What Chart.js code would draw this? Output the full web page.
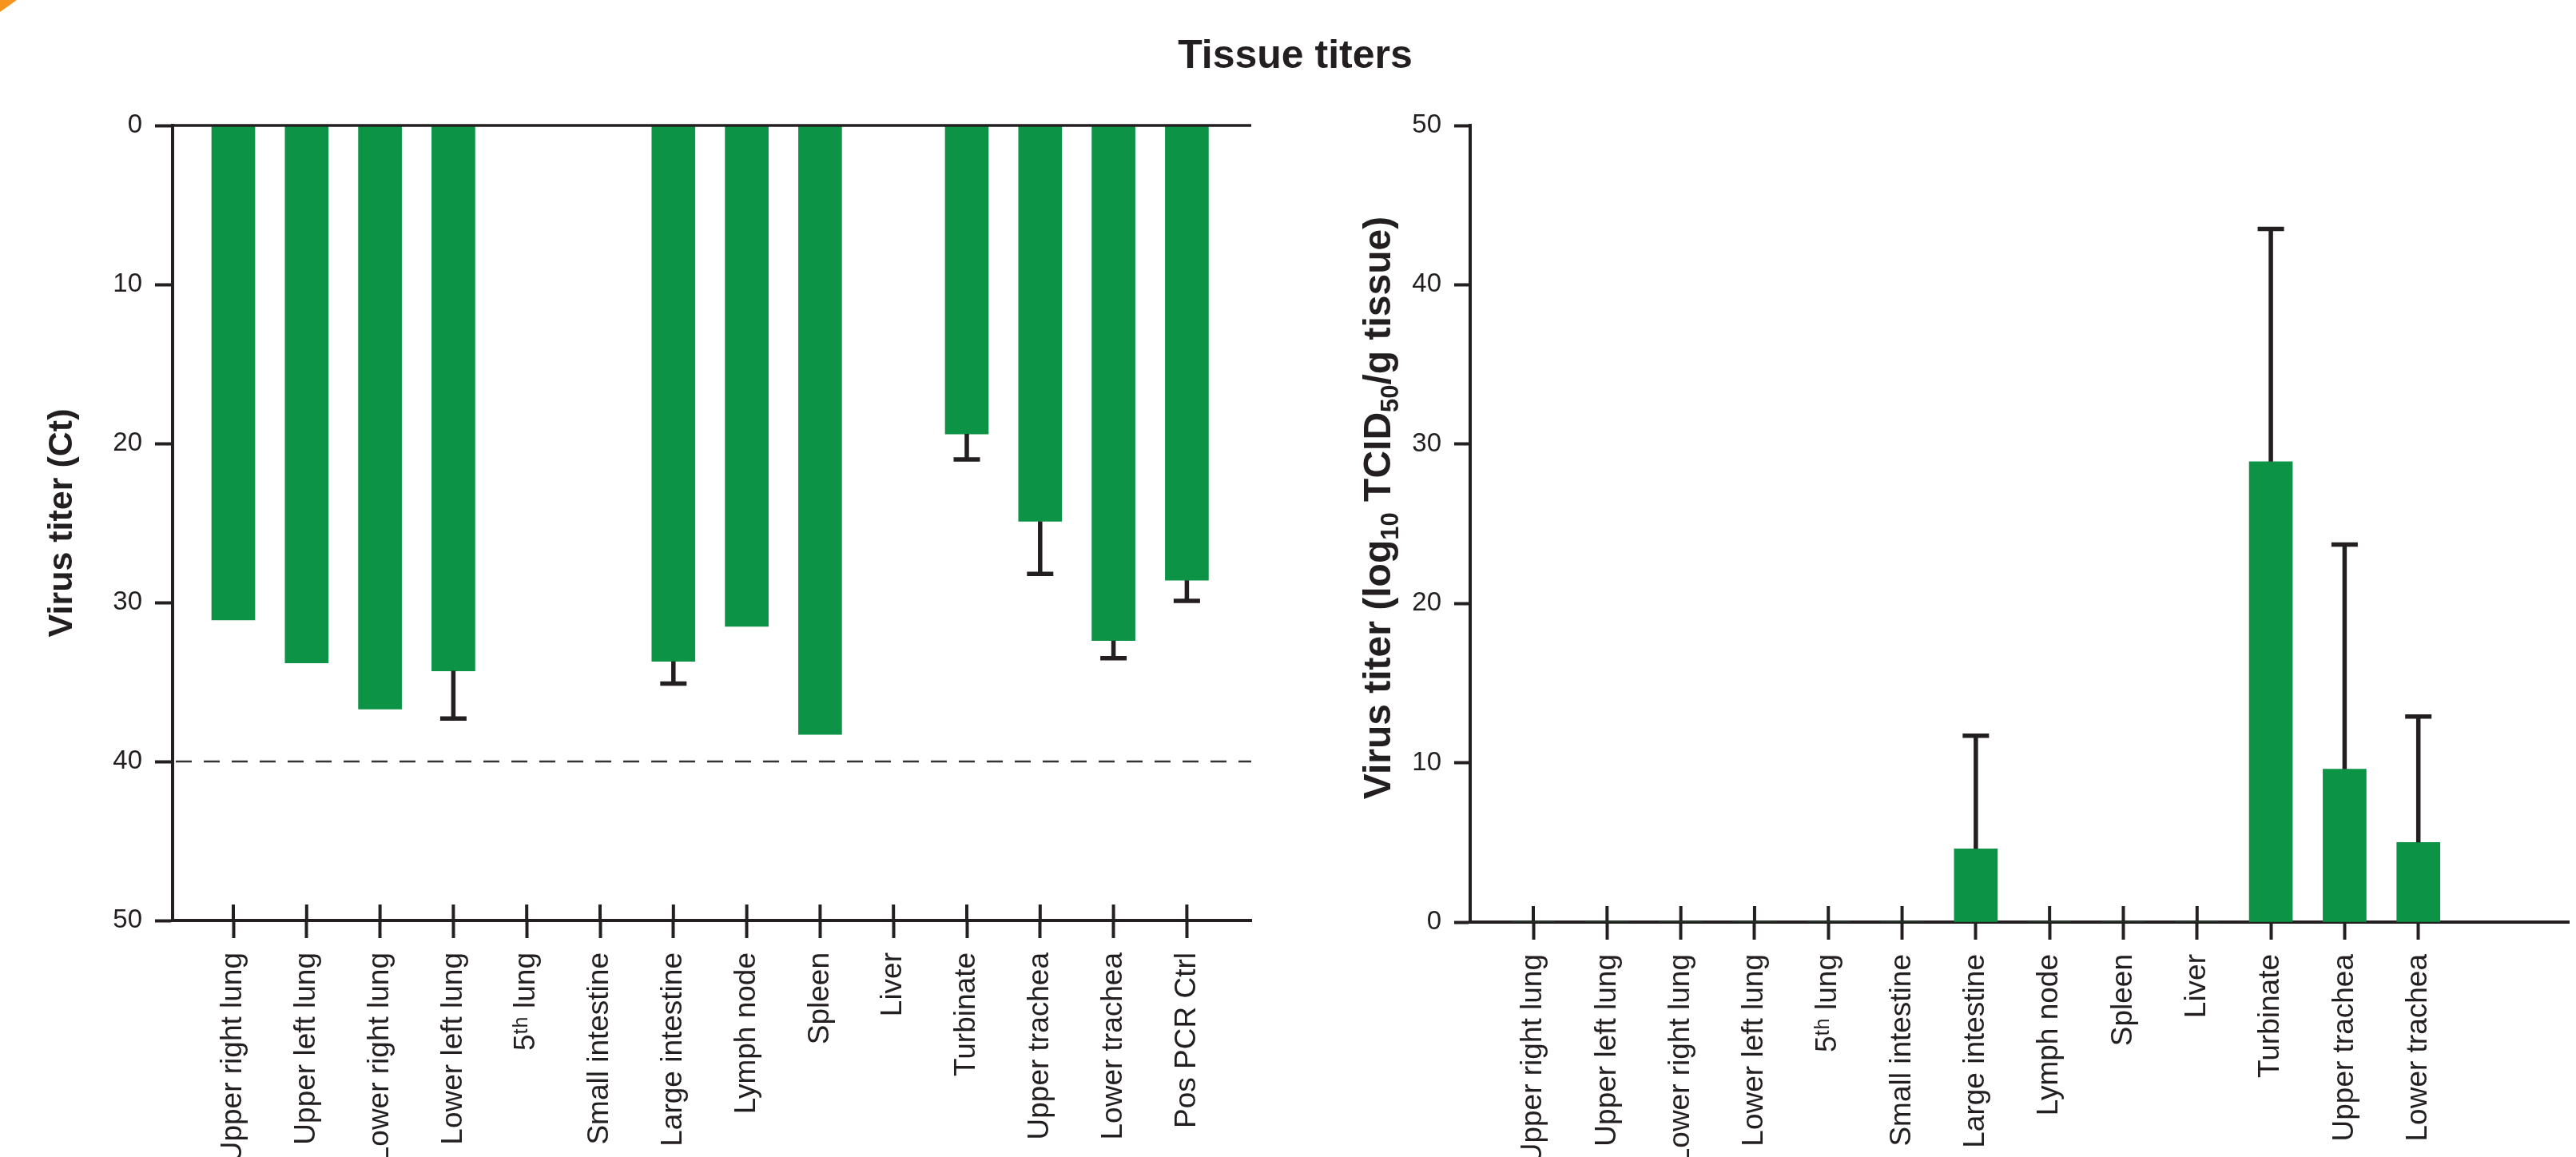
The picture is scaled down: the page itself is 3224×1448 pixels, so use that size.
<!DOCTYPE html>
<html>
<head>
<meta charset="utf-8">
<title>Tissue titers</title>
<script src="https://cdn.jsdelivr.net/npm/chart.js@4.4.1/dist/chart.umd.min.js"></script>
<style>
    html, body { margin: 0; padding: 0; background: #fff; }
    body { width: 3224px; height: 1448px; position: relative; overflow: hidden;
           font-family: "Liberation Sans", Arial, sans-serif; }
    #title { position: absolute; left: 0; top: 43px; width: 3242px; text-align: center;
             font-weight: bold; font-size: 50px; line-height: 50px; color: #231f20; }
    #ct { position: absolute; left: 0; top: 0; }
    #tcid { position: absolute; left: 1620px; top: 0; }
    .corner { position: absolute; left: 0; top: 0; width: 0; height: 0;
              border-top: 15px solid #f7941d; border-right: 21px solid transparent; }
</style>
</head>
<body>
<div class="corner"></div>
<div id="title">Tissue titers</div>
<canvas id="ct" width="1620" height="1448"></canvas>
<canvas id="tcid" width="1604" height="1448"></canvas>

<script>
// ─── Data ────────────────────────────────────────────────────────────
const ctLabels = ['Upper right lung', 'Upper left lung', 'Lower right lung', 'Lower left lung',
    '5ᵗʰ lung', 'Small intestine', 'Large intestine', 'Lymph node', 'Spleen', 'Liver',
    'Turbinate', 'Upper trachea', 'Lower trachea', 'Pos PCR Ctrl'];
const ctMeans = [31.1, 33.8, 36.7, 34.3, null, null, 33.7, 31.5, 38.3, null, 19.4, 24.9, 32.4, 28.6];
const ctSD    = [0, 0, 0, 3.0, 0, 0, 1.4, 0, 0, 0, 1.6, 3.3, 1.1, 1.3];
const ctTicks = [0, 10, 20, 30, 40, 50];
const ctCutoff = 40;

const tcidLabels = ['Upper right lung', 'Upper left lung', 'Lower right lung', 'Lower left lung',
    '5ᵗʰ lung', 'Small intestine', 'Large intestine', 'Lymph node', 'Spleen', 'Liver',
    'Turbinate', 'Upper trachea', 'Lower trachea'];
const tcidMeans = [0, 0, 0, 0, 0, 0, 4.6, 0, 0, 0, 28.9, 9.6, 5.0];
const tcidSD    = [0, 0, 0, 0, 0, 0, 7.1, 0, 0, 0, 14.6, 14.1, 7.9];
const tcidTicks = [0, 10, 20, 30, 40, 50];

// y title of the right panel, pieces with subscripts
const tcidTitle = [
    { text: 'Virus titer (log', sub: false },
    { text: '10', sub: true },
    { text: ' TCID', sub: false },
    { text: '50', sub: true },
    { text: '/g tissue)', sub: false }
];

// ─── Style ───────────────────────────────────────────────────────────
const INK = '#231f20';
const GREEN = '#0d9346';
const FONT = '"Liberation Sans", Arial, sans-serif';
Chart.defaults.font.family = FONT;
Chart.defaults.color = INK;

// ─── Plugins ─────────────────────────────────────────────────────────
// one-sided SD bars, pointing away from the bar base
function errorBars(means, sds) {
    return {
        id: 'errorBars',
        afterDatasetsDraw(chart) {
            const meta = chart.getDatasetMeta(0);
            const y = chart.scales.y;
            const ctx = chart.ctx;
            ctx.save();
            ctx.strokeStyle = INK;
            ctx.lineWidth = 5.5;
            means.forEach((v, i) => {
                if (v == null || !sds[i]) return;
                const x = meta.data[i].x;
                const y0 = y.getPixelForValue(v);
                const y1 = y.getPixelForValue(v + sds[i]);
                ctx.beginPath();
                ctx.moveTo(x, y0);
                ctx.lineTo(x, y1);
                ctx.moveTo(x - 16.5, y1);
                ctx.lineTo(x + 16.5, y1);
                ctx.stroke();
            });
            ctx.restore();
        }
    };
}

// category ticks cross the axis line: draw the part above it
const innerTicks = {
    id: 'innerTicks',
    beforeDatasetsDraw(chart) {
        const x = chart.scales.x;
        const ctx = chart.ctx;
        const base = chart.chartArea.bottom;
        ctx.save();
        ctx.strokeStyle = INK;
        ctx.lineWidth = 4;
        x.ticks.forEach(t => {
            const px = x.getPixelForValue(t.value);
            ctx.beginPath();
            ctx.moveTo(px, base);
            ctx.lineTo(px, base - 20);
            ctx.stroke();
        });
        ctx.restore();
    }
};

// zero line at top and detection cutoff for the Ct panel
const ctLines = {
    id: 'ctLines',
    afterDatasetsDraw(chart) {
        const { ctx, chartArea: a, scales: { y } } = chart;
        ctx.save();
        ctx.strokeStyle = INK;
        ctx.lineWidth = 3.5;
        ctx.beginPath();
        ctx.moveTo(a.left, y.getPixelForValue(0));
        ctx.lineTo(a.right, y.getPixelForValue(0));
        ctx.stroke();
        ctx.strokeStyle = '#333';
        ctx.lineWidth = 2.5;
        ctx.setLineDash([20, 15]);
        ctx.beginPath();
        ctx.moveTo(a.left + 4, y.getPixelForValue(ctCutoff));
        ctx.lineTo(a.right, y.getPixelForValue(ctCutoff));
        ctx.stroke();
        ctx.restore();
    }
};

// rotated axis title with subscript pieces
function subTitle(pieces, offsetX, shiftUp) {
    return {
        id: 'subTitle',
        afterDraw(chart) {
            const { ctx, chartArea: a } = chart;
            const big = 'bold 48px ' + FONT, small = 'bold 31px ' + FONT;
            ctx.save();
            let total = 0;
            pieces.forEach(p => { ctx.font = p.sub ? small : big; total += ctx.measureText(p.text).width; });
            ctx.translate(chart.scales.y.left + offsetX, (a.top + a.bottom) / 2);
            ctx.rotate(-Math.PI / 2);
            ctx.fillStyle = INK;
            ctx.textBaseline = 'alphabetic';
            let x = -total / 2 + shiftUp;
            pieces.forEach(p => {
                ctx.font = p.sub ? small : big;
                ctx.fillText(p.text, x, p.sub ? 27 : 17);
                x += ctx.measureText(p.text).width;
            });
            ctx.restore();
        }
    };
}

function xAxis(labels, min, max, height) {
    return {
        type: 'linear', min: min, max: max, offset: false,
        afterBuildTicks: s => { s.ticks = labels.map((_, i) => ({ value: i })); },
        afterFit: s => { s.height = height; },
        ticks: { autoSkip: false, minRotation: 90, maxRotation: 90, padding: 18,
                 color: INK, font: { size: 37 }, callback: v => labels[v] || '' },
        grid: { offset: false, drawOnChartArea: false, drawTicks: true, tickLength: 22, tickWidth: 4, tickColor: INK },
        border: { display: true, color: INK, width: 4 }
    };
}

function yAxis(ticks, width, title, titlePad, reverse, tickLen) {
    return {
        reverse: reverse, min: ticks[0], max: ticks[ticks.length - 1],
        afterBuildTicks: s => { s.ticks = ticks.map(v => ({ value: v })); },
        afterFit: s => { s.width = width; },
        ticks: { padding: 16, color: INK, font: { size: 33 } },
        grid: { drawOnChartArea: false, drawTicks: true, tickLength: tickLen, tickWidth: 4, tickColor: INK },
        border: { display: true, color: INK, width: 4 },
        title: { display: !!title, text: title || '', color: INK,
                 font: { size: 43, weight: 'bold' }, padding: { top: titlePad, bottom: 0 } }
    };
}

// ─── Ct panel ────────────────────────────────────────────────────────
new Chart(document.getElementById('ct'), {
    type: 'bar',
    data: {
        datasets: [{
            data: ctMeans.map((v, i) => ({ x: i, y: v })),
            backgroundColor: GREEN,
            borderWidth: 0,
            barThickness: 54
        }]
    },
    options: {
        responsive: false,
        animation: false,
        devicePixelRatio: 1,
        layout: { padding: { left: 0, top: 157, right: 54, bottom: 0 } },
        plugins: { legend: { display: false }, tooltip: { enabled: false } },
        scales: {
            x: xAxis(ctLabels, -0.828, 13.878, 296),
            y: yAxis(ctTicks, 216, 'Virus titer (Ct)', 52, true, 22)
        }
    },
    plugins: [innerTicks, ctLines, errorBars(ctMeans, ctSD)]
});

// ─── TCID50 panel ────────────────────────────────────────────────────
new Chart(document.getElementById('tcid'), {
    type: 'bar',
    data: {
        datasets: [{
            data: tcidMeans.map((v, i) => ({ x: i, y: v })),
            backgroundColor: GREEN,
            borderWidth: 0,
            barThickness: 54
        }]
    },
    options: {
        responsive: false,
        animation: false,
        devicePixelRatio: 1,
        layout: { padding: { left: 0, top: 157, right: 9, bottom: 0 } },
        plugins: { legend: { display: false }, tooltip: { enabled: false } },
        scales: {
            x: Object.assign(xAxis(tcidLabels, -0.856, 14.04, 294), { z: 1 }),
            y: yAxis(tcidTicks, 220, null, 0, false, 20)
        }
    },
    plugins: [innerTicks, errorBars(tcidMeans, tcidSD), subTitle(tcidTitle, 103, 20)]
});
</script>
</body>
</html>
